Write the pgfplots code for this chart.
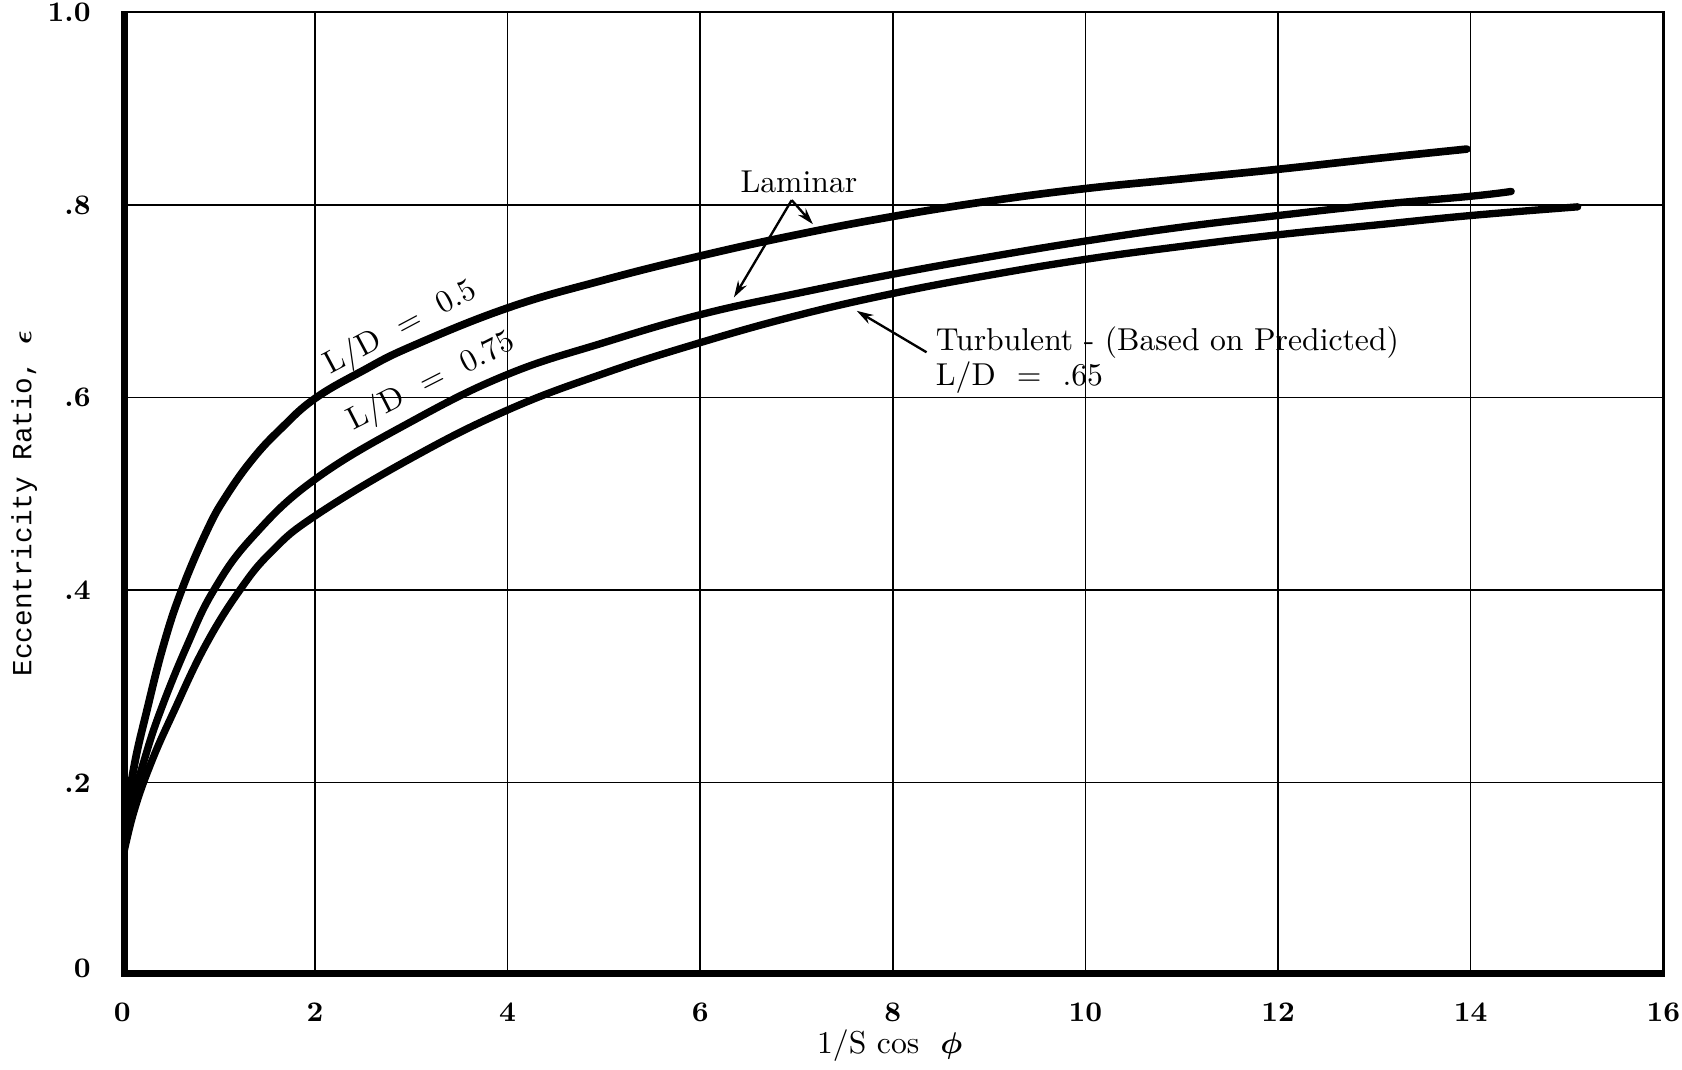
\documentclass[border=0pt]{standalone}
\usepackage{amsmath}
\usepackage{fontspec}
\newfontfamily\monofont{Liberation Mono}
\usepackage{pgfplots}
\pgfplotsset{compat=1.18}
\usetikzlibrary{arrows.meta}

\newcommand\lbl{\fontsize{9.5}{11}\selectfont}

% L/D = 0.5, laminar
\pgfplotstableread{
x y
0 0.12
0.05 0.17
0.13 0.221
0.25 0.273
0.425 0.342
0.616 0.40
0.88 0.462
1.08 0.498
1.36 0.537
1.65 0.568
2.0 0.599
2.5 0.628
3.0 0.653
4.0 0.693
5.0 0.722
6.0 0.747
7.0 0.769
8.0 0.788
9.0 0.804
10.0 0.817
11.0 0.827
12.0 0.837
13.0 0.848
13.96 0.858
}\ldhalf

% L/D = 0.75, laminar
\pgfplotstableread{
x y
0 0.12
0.08 0.17
0.22 0.221
0.39 0.273
0.67 0.342
0.95 0.40
1.35 0.455
2.0 0.515
3.0 0.575
4.0 0.624
5.0 0.657
6.0 0.686
7.0 0.708
8.0 0.728
9.0 0.746
10.0 0.7625
11.0 0.777
12.0 0.789
13.0 0.800
14.0 0.809
14.42 0.814
}\ldthreeq

% turbulent, L/D = .65
\pgfplotstableread{
x y
0 0.12
0.12 0.17
0.30 0.221
0.53 0.273
0.86 0.342
1.22 0.40
1.55 0.440
2.0 0.477
3.0 0.537
4.0 0.587
5.0 0.625
6.0 0.657
7.0 0.685
8.0 0.708
9.0 0.727
10.0 0.7435
11.0 0.757
12.0 0.769
13.0 0.779
14.0 0.789
15.11 0.798
}\turb

\begin{document}
\begin{tikzpicture}
\begin{axis}[
  scale only axis,width=462.3pt,height=288.9pt,
  xmin=0,xmax=16,ymin=0,ymax=1,
  xtick={0,2,4,6,8,10,12,14,16},
  ytick={0,0.2,0.4,0.6,0.8,1},
  yticklabels={\raisebox{4pt}{0},.2,.4,.6,.8,1.0},
  /pgf/number format/assume math mode=true,
  tick label style={font=\fontsize{8.5}{10}\selectfont\bfseries},
  xticklabel style={yshift=-4.7pt},
  yticklabel style={xshift=-6pt},
  major tick length=0pt,
  grid=major,grid style={black,line width=0.45pt},
  axis line style={line width=0.7pt},
  xlabel={1/S cos\ \ $\boldsymbol{\phi}$},
  xlabel style={font=\lbl,at={(axis description cs:0.498,-0.0727)},anchor=center},
  ylabel={Eccentricity Ratio, $\boldsymbol{\epsilon}$},
  ylabel style={font=\monofont\fontsize{8.3}{10}\selectfont,at={(axis description cs:-0.0636,0.49)},anchor=center},
]
\addplot[black,line width=2.3pt,smooth,tension=0.7,no marks,line cap=round] table[x=x,y=y] {\ldhalf};
\addplot[black,line width=2.2pt,smooth,tension=0.7,no marks,line cap=round] table[x=x,y=y] {\ldthreeq};
\addplot[black,line width=2.2pt,smooth,tension=0.7,no marks,line cap=round] table[x=x,y=y] {\turb};

\draw[line width=3.5pt,line join=round,line cap=round] (rel axis cs:0,1) -- (rel axis cs:0,0) -- (rel axis cs:1,0);

\node[font=\lbl,rotate=28] at (axis cs:2.89,0.672) {L/D\ \ =\ \ 0.5};
\node[font=\lbl,rotate=27] at (axis cs:3.21,0.616) {L/D\ \ =\ \ 0.75};
\node[font=\lbl] at (axis cs:7.025,0.824) {Laminar};
\draw[line width=0.7pt,-{Stealth[length=5pt,width=3pt]}] (axis cs:6.95,0.805) -- (axis cs:7.17,0.780);
\draw[line width=0.7pt,-{Stealth[length=5pt,width=3pt]}] (axis cs:6.95,0.805) -- (axis cs:6.35,0.704);
\draw[line width=0.7pt,-{Stealth[length=5pt,width=3pt]}] (axis cs:8.35,0.647) -- (axis cs:7.625,0.690);
\node[font=\lbl,anchor=west,inner sep=0pt] at (axis cs:8.44,0.657) {Turbulent - (Based on Predicted)};
\node[font=\lbl,anchor=west,inner sep=0pt] at (axis cs:8.44,0.621) {L/D\ \ =\ \ .65};
\end{axis}
\pgfresetboundingbox
\useasboundingbox ([shift={(-36.7pt,-28.2pt)}]current axis.south west) rectangle ([shift={(5.6pt,3.7pt)}]current axis.north east);
\end{tikzpicture}
\end{document}
